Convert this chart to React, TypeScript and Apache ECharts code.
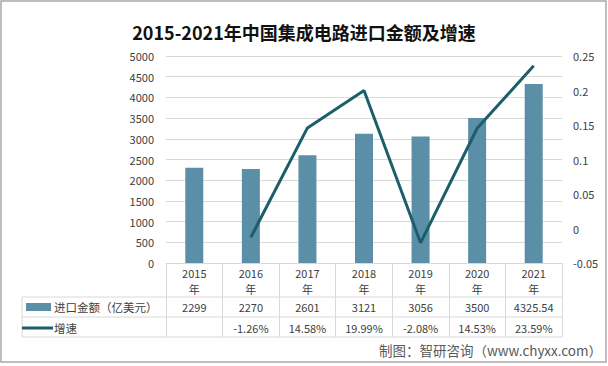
import React, { useEffect, useRef } from "react";
import * as echarts from "echarts";

const years = ["2015", "2016", "2017", "2018", "2019", "2020", "2021"];
const importAmount = [2299, 2270, 2601, 3121, 3056, 3500, 4325.54];
const growthRate: (number | null)[] = [null, -0.0126, 0.1458, 0.1999, -0.0208, 0.1453, 0.2359];
const leftAxis = { min: 0, max: 5000, interval: 500 };
const rightAxis = { min: -0.05, max: 0.25, interval: 0.05 };

const titleText = "2015-2021年中国集成电路进口金额及增速";
const sourceText = "制图：智研咨询（www.chyxx.com）";
const barName = "进口金额（亿美元）";
const lineName = "增速";

const BAR_COLOR = "#5b8ea7";
const LINE_COLOR = "#1d5e6b";
const GRID_COLOR = "#d9d9d9";
const TEXT_COLOR = "#404040";
const FONT = "'Noto Sans CJK SC', 'Noto Sans', sans-serif";

const W = 608;
const H = 366;
const G_LEFT = 166;
const G_RIGHT = 562;
const G_TOP = 56;
const G_BOTTOM = 263;

export default function App() {
  const ref = useRef<HTMLDivElement>(null);

  useEffect(() => {
    if (!ref.current) return;
    const chart = echarts.init(ref.current, undefined, { renderer: "svg" });

    const amountLabels = importAmount.map((v) => String(v));
    const growthLabels = growthRate.map((v) => (v === null ? "" : (v * 100).toFixed(2) + "%"));

    const rowLine = (y: number, x1: number) => ({
      type: "line",
      shape: { x1, y1: y, x2: G_RIGHT, y2: y },
      style: { stroke: GRID_COLOR, lineWidth: 1 },
      silent: true,
    });

    const option: any = {
      animation: false,
      backgroundColor: "#ffffff",
      textStyle: { fontFamily: FONT },
      title: {
        text: titleText,
        left: "center",
        top: 18,
        textStyle: { fontSize: 18, fontWeight: "bold", color: "#111", fontFamily: FONT },
      },
      grid: { left: G_LEFT, right: W - G_RIGHT, top: G_TOP, bottom: H - G_BOTTOM, containLabel: false },
      xAxis: [
        {
          type: "category",
          data: years.map((y) => y + "\n年"),
          position: "bottom",
          axisLine: { show: true, lineStyle: { color: GRID_COLOR, width: 1 } },
          axisTick: { show: true, length: 74, interval: 0, lineStyle: { color: GRID_COLOR, width: 1 } },
          axisLabel: { interval: 0, margin: 2, fontSize: 11, lineHeight: 16, color: TEXT_COLOR, fontFamily: FONT },
        },
        {
          type: "category",
          data: amountLabels,
          position: "bottom",
          axisLine: { show: false },
          axisTick: { show: false },
          axisLabel: { interval: 0, margin: 37, fontSize: 11, lineHeight: 14, color: TEXT_COLOR, fontFamily: FONT },
        },
        {
          type: "category",
          data: growthLabels,
          position: "bottom",
          axisLine: { show: false },
          axisTick: { show: false },
          axisLabel: { interval: 0, margin: 58, fontSize: 11, lineHeight: 14, color: TEXT_COLOR, fontFamily: FONT },
        },
      ],
      yAxis: [
        {
          type: "value",
          min: leftAxis.min,
          max: leftAxis.max,
          interval: leftAxis.interval,
          axisLine: { show: false },
          axisTick: { show: false },
          axisLabel: {
            margin: 12,
            fontSize: 11,
            color: TEXT_COLOR,
            fontFamily: FONT,
            formatter: (v: number) => String(v),
          },
          splitLine: { show: true, lineStyle: { color: GRID_COLOR, width: 1 } },
        },
        {
          type: "value",
          min: rightAxis.min,
          max: rightAxis.max,
          interval: rightAxis.interval,
          position: "right",
          axisLine: { show: false },
          axisTick: { show: false },
          axisLabel: {
            margin: 11,
            fontSize: 11,
            color: TEXT_COLOR,
            fontFamily: FONT,
            formatter: (v: number) => String(Math.round(v * 100) / 100),
          },
          splitLine: { show: false },
        },
      ],
      series: [
        {
          name: barName,
          type: "bar",
          xAxisIndex: 0,
          yAxisIndex: 0,
          data: importAmount,
          barWidth: 18,
          itemStyle: { color: BAR_COLOR },
        },
        {
          name: lineName,
          type: "line",
          xAxisIndex: 0,
          yAxisIndex: 1,
          data: growthRate.map((v) => (v === null ? "-" : v)),
          symbol: "none",
          lineStyle: { color: LINE_COLOR, width: 3 },
          itemStyle: { color: LINE_COLOR },
        },
      ],
      graphic: [
        rowLine(297, 22),
        rowLine(317, 22),
        rowLine(337, 22),
        {
          type: "line",
          shape: { x1: 22, y1: 297, x2: 22, y2: 337 },
          style: { stroke: GRID_COLOR, lineWidth: 1 },
          silent: true,
        },
        {
          type: "rect",
          shape: { x: 26, y: 303, width: 25, height: 8 },
          style: { fill: BAR_COLOR },
          silent: true,
        },
        {
          type: "text",
          x: 54,
          y: 307,
          style: { text: barName, fontSize: 11.5, fill: TEXT_COLOR, fontFamily: FONT, verticalAlign: "middle", align: "left" },
          silent: true,
        },
        {
          type: "line",
          shape: { x1: 22, y1: 328, x2: 53, y2: 328 },
          style: { stroke: LINE_COLOR, lineWidth: 3 },
          silent: true,
        },
        {
          type: "text",
          x: 54,
          y: 328,
          style: { text: lineName, fontSize: 11.5, fill: TEXT_COLOR, fontFamily: FONT, verticalAlign: "middle", align: "left" },
          silent: true,
        },
        {
          type: "text",
          x: 602,
          y: 350,
          style: { text: sourceText, fontSize: 13.5, fill: "#595959", fontFamily: FONT, verticalAlign: "middle", align: "right" },
          silent: true,
        },
        {
          type: "rect",
          shape: { x: 1, y: 1, width: 605, height: 361 },
          style: { fill: "none", stroke: "#a8a8a8", lineWidth: 1.5 },
          silent: true,
        },
      ],
    };

    chart.setOption(option);
    return () => chart.dispose();
  }, []);

  return (
    <div
      ref={ref}
      style={{ position: "fixed", left: 0, top: 0, width: W, height: H }}
    />
  );
}
